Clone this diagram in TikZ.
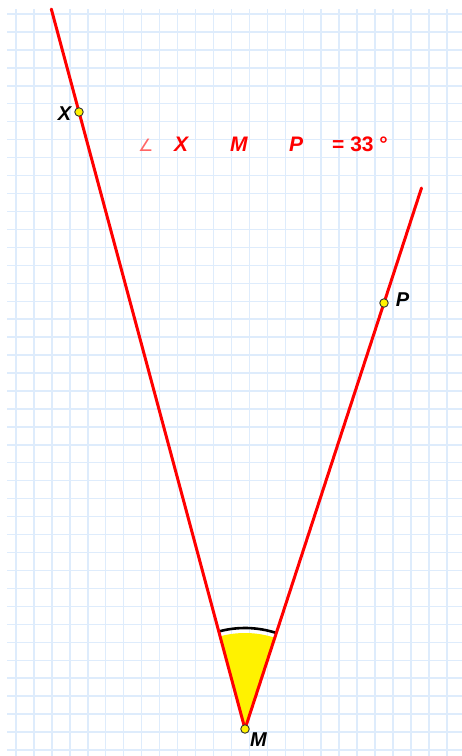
\documentclass[tikz,border=0pt]{standalone}
\usepackage{fontspec}
\setmainfont{Liberation Sans}
\newfontfamily\symfont{DejaVu Sans}
\definecolor{gridblue}{RGB}{222,236,252}
\definecolor{redline}{RGB}{255,0,0}
\tikzset{
  gridline/.style={gridblue, line width=1.4pt},
  ray/.style={redline, line width=3pt},
  pt/.style={circle, draw=black!80, fill=yellow, line width=0.9pt, inner sep=0pt, minimum size=8.5pt},
  lbl/.style={font=\fontsize{20}{20}\selectfont\bfseries\itshape, text=black, inner sep=0pt},
  meas/.style={font=\fontsize{21}{21}\selectfont\bfseries, text=redline, inner sep=0pt, anchor=base west},
  measit/.style={meas, font=\fontsize{21}{21}\selectfont\bfseries\itshape},
}
\begin{document}
\begin{tikzpicture}[x=1pt,y=-1pt]
\useasboundingbox (0,0) rectangle (462,756);
\fill[white] (0,0) rectangle (462,756);
% grid
\foreach \i in {0,...,24} {
  \draw[gridline] (16+17.95*\i,9) -- (16+17.95*\i,756);
}
\foreach \j in {0,...,41} {
  \draw[gridline] (7,14+17.95*\j) -- (462,14+17.95*\j);
}
% points
\coordinate (M) at (245,729);
\coordinate (Xp) at (79,112);
\coordinate (Pp) at (384,303);
\coordinate (T1) at (51.3,9);
\coordinate (T2) at (421.5,188);
% sector
\fill[yellow] (M) -- +(-105.06:96) arc[start angle=-105.06, end angle=-71.93, radius=96] -- cycle;
\draw[black, line width=2.6pt] (M) ++(-105.06:101) arc[start angle=-105.06, end angle=-71.93, radius=101];
% rays
\draw[ray, line cap=round] (T1) -- (M);
\draw[ray, line cap=round] (M) -- (T2);
% point markers
\node[pt] (X) at (Xp) {};
\node[pt] (P) at (Pp) {};
\node[pt] (Mn) at (M) {};
% labels
\node[lbl] (lX) at (64.5,114) {X};
\node[lbl] (lP) at (402.5,300) {P};
\node[lbl] (lM) at (258.5,740) {M};
% measurement text
\node[font=\fontsize{17}{17}\selectfont\symfont, text=redline!60, inner sep=0pt, anchor=base west] (ang) at (138,151) {∠};
\node[measit] (mX) at (174,151) {X};
\node[measit] (mM) at (230,151) {M};
\node[measit] (mP) at (289,151) {P};
\node[meas] (mv) at (332,151) {= 33 °};
\end{tikzpicture}
\end{document}
